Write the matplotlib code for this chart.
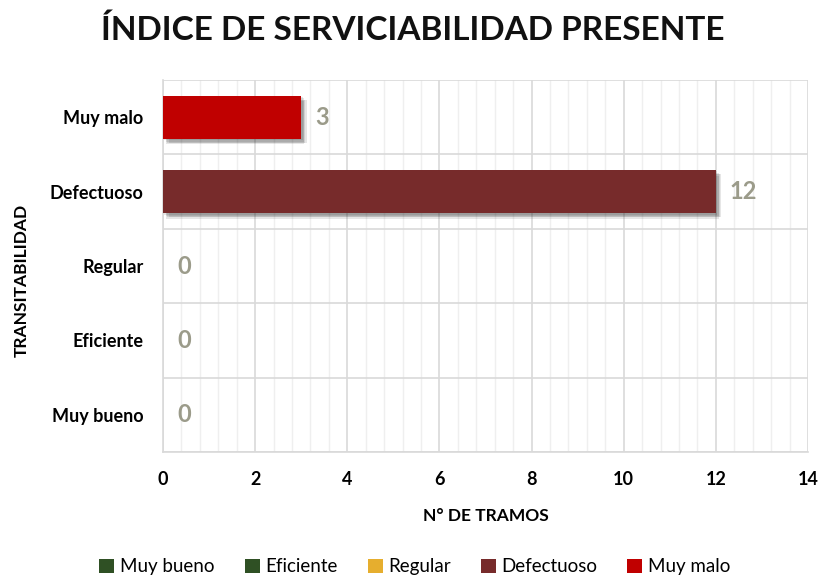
import matplotlib.pyplot as plt
import matplotlib.patheffects as pe
from matplotlib.patches import Patch
import numpy as np

plt.rcParams['font.family'] = ['Lato', 'DejaVu Sans']

# Data
categories = ['Muy bueno', 'Eficiente', 'Regular', 'Defectuoso', 'Muy malo']
values = [0, 0, 0, 12, 3]
colors = ['#2F5024', '#2F5024', '#E6AE2E', '#772B2B', '#C00000']

fig = plt.figure(figsize=(8.2, 5.84), dpi=100)
ax = fig.add_axes([0.1988, 0.226, 0.7866, 0.637])

y = np.arange(len(categories))
# soft shadow: a few stacked translucent offsets
shadow = [pe.SimplePatchShadow(offset=(dx, -dy), shadow_rgbFace='#333333', alpha=0.12)
          for dx, dy in [(1, 1), (2, 2), (3, 3), (2, 4), (4, 3)]] + [pe.Normal()]
bars = ax.barh(y, values, height=0.58, color=colors, zorder=3)
for b in bars:
    if b.get_width() > 0:
        b.set_path_effects(shadow)

# data labels
for yi, v in zip(y, values):
    ax.annotate(str(v), xy=(v, yi), xytext=(10, 0), textcoords='offset points',
                va='center', ha='left', fontsize=17, fontweight='bold', color='#9B9B8A')

ax.set_xlim(0, 14)
ax.set_ylim(-0.5, len(categories) - 0.5)
ax.set_xticks(np.arange(0, 15, 2))
ax.set_xticks(np.arange(0, 14.01, 0.4), minor=True)
ax.set_yticks(y)
ax.set_yticklabels(categories)
ax.set_yticks(np.arange(-0.5, len(categories), 1), minor=True)

ax.grid(which='major', axis='x', color='#D9D9D9', linewidth=1.2, zorder=0)
ax.grid(which='minor', axis='x', color='#EFEFEF', linewidth=1.0, zorder=0)
ax.grid(which='minor', axis='y', color='#D9D9D9', linewidth=1.2, zorder=0)
ax.tick_params(which='both', length=0)
ax.tick_params(axis='x', pad=14, labelsize=13)
ax.tick_params(axis='y', pad=14, labelsize=13)
for lab in ax.get_xticklabels() + ax.get_yticklabels():
    lab.set_fontweight('bold')
for s in ['top', 'right']:
    ax.spines[s].set_visible(False)
for s in ['left', 'bottom']:
    ax.spines[s].set_color('#D9D9D9')
    ax.spines[s].set_linewidth(1.2)

ax.set_xlabel('N° DE TRAMOS', fontsize=12.5, fontweight='bold', labelpad=14)
fig.text(0.027, 0.52, 'TRANSITABILIDAD', rotation=90, fontsize=12.5, fontweight='bold',
         va='center', ha='center')

fig.suptitle('ÍNDICE DE SERVICIABILIDAD PRESENTE', x=0.503, y=0.975, fontsize=24,
             fontweight='bold', color='#111111')

handles = [Patch(facecolor=c, label=l) for c, l in zip(colors, categories)]
fig.legend(handles=handles, loc='lower center', bbox_to_anchor=(0.506, -0.014), ncol=5,
           frameon=False, fontsize=13.5, handlelength=0.8, handleheight=0.8,
           handletextpad=0.3, columnspacing=1.6)

fig.savefig('out.png', dpi=100)
